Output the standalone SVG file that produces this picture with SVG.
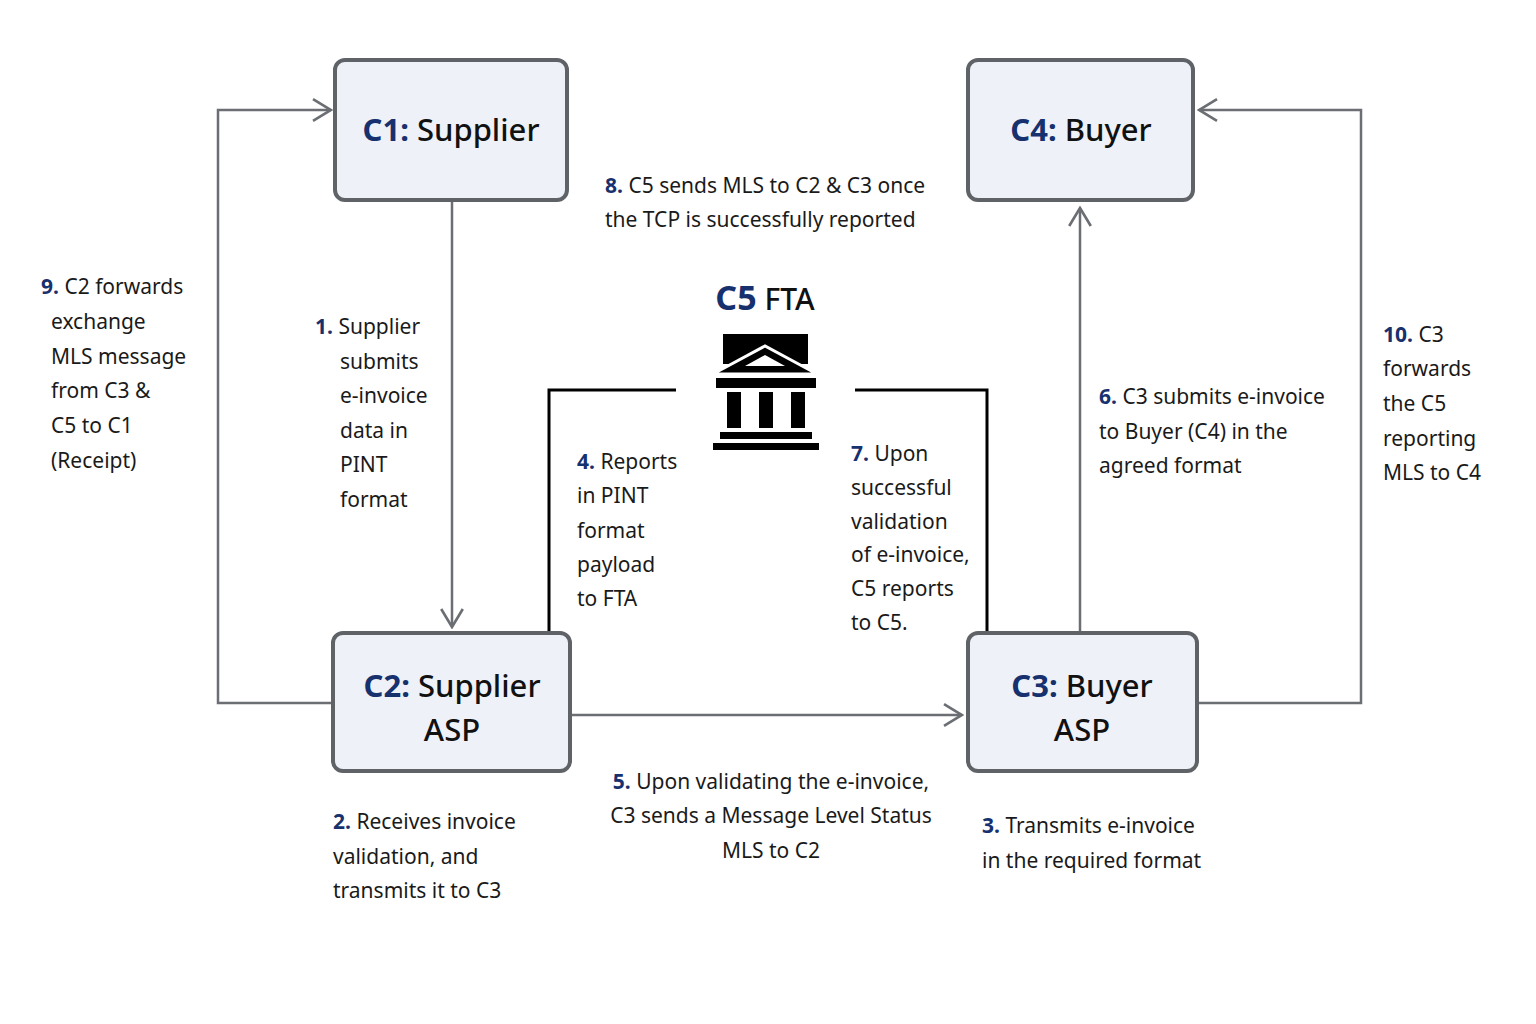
<svg xmlns="http://www.w3.org/2000/svg" width="1536" height="1024" viewBox="0 0 1536 1024">
<style>
.box{fill:#eef2f8;stroke:#5f6368;stroke-width:4}
.t{font-family:"Noto Sans","Open Sans",sans-serif;font-size:21px;fill:#1a1a1a}
.h{font-family:"Noto Sans","Open Sans",sans-serif;font-size:31px;fill:#111;text-anchor:middle;font-weight:500}
.b{fill:#17306e;font-weight:bold}
.c{fill:none;stroke:#6b6e73;stroke-width:2.5}
.k{fill:none;stroke:#000;stroke-width:3}
</style>
<defs>
<marker id="a" viewBox="0 0 20 20" refX="18" refY="10" markerWidth="24" markerHeight="28" markerUnits="userSpaceOnUse" orient="auto"><path d="M3,1 L18,10 L3,19" fill="none" stroke="#6b6e73" stroke-width="2.2"/></marker>
</defs>
<rect width="1536" height="1024" fill="#fff"/>
<g id="connectors">
<path class="c" d="M452,201 V627" marker-end="url(#a)"/>
<path class="c" d="M333,703 H218 V110 H331" marker-end="url(#a)"/>
<path class="c" d="M571,715 H962" marker-end="url(#a)"/>
<path class="c" d="M1080,632 V208" marker-end="url(#a)"/>
<path class="c" d="M1197,703 H1361 V110 H1199" marker-end="url(#a)"/>
<path class="k" d="M549,632 V390 H676"/>
<path class="k" d="M855,390 H987 V632"/>
</g>
<g id="c1"><rect class="box" x="335" y="60" width="232" height="140" rx="10"/><text class="h" x="451" y="141"><tspan class="b">C1:</tspan> Supplier</text></g>
<g id="c4"><rect class="box" x="968" y="60" width="225" height="140" rx="10"/><text class="h" x="1081" y="141"><tspan class="b">C4:</tspan> Buyer</text></g>
<g id="c2"><rect class="box" x="333" y="633" width="237" height="138" rx="10"/><text class="h" x="452" y="697"><tspan class="b">C2:</tspan> Supplier</text><text class="h" x="452" y="741">ASP</text></g>
<g id="c3"><rect class="box" x="968" y="633" width="229" height="138" rx="10"/><text class="h" x="1082" y="697"><tspan class="b">C3:</tspan> Buyer</text><text class="h" x="1082" y="741">ASP</text></g>
<g id="c5">
<text class="h" x="765" y="310" style="font-size:30px"><tspan class="b" style="font-size:34px">C5</tspan> <tspan>FTA</tspan></text>
<rect x="723" y="334" width="85" height="30" fill="#000"/>
<path d="M713,374 L765,346 L817,374 Z" fill="#000" stroke="#fff" stroke-width="3"/>
<path d="M745,366 L765,355 L785,366 Z" fill="#fff"/>
<rect x="716" y="378" width="100" height="10" fill="#000"/>
<rect x="727" y="392" width="14" height="36" fill="#000"/>
<rect x="759" y="392" width="14" height="36" fill="#000"/>
<rect x="791" y="392" width="14" height="36" fill="#000"/>
<rect x="720" y="432" width="92" height="7" fill="#000"/>
<rect x="713" y="443" width="106" height="7" fill="#000"/>
</g>
<g id="labels" class="t">
<text x="605" y="193"><tspan class="b">8.</tspan> C5 sends MLS to C2 &amp; C3 once</text>
<text x="605" y="227">the TCP is successfully reported</text>
<text x="41" y="294"><tspan class="b">9.</tspan> C2 forwards</text>
<text x="51" y="329">exchange</text><text x="51" y="364">MLS message</text><text x="51" y="398">from C3 &amp;</text><text x="51" y="433">C5 to C1</text><text x="51" y="468">(Receipt)</text>
<text x="315" y="334"><tspan class="b">1.</tspan> Supplier</text>
<text x="340" y="369">submits</text><text x="340" y="403">e-invoice</text><text x="340" y="438">data in</text><text x="340" y="472">PINT</text><text x="340" y="507">format</text>
<text x="577" y="469"><tspan class="b">4.</tspan> Reports</text>
<text x="577" y="503">in PINT</text><text x="577" y="538">format</text><text x="577" y="572">payload</text><text x="577" y="606">to FTA</text>
<text x="851" y="461"><tspan class="b">7.</tspan> Upon</text>
<text x="851" y="495">successful</text><text x="851" y="529">validation</text><text x="851" y="562">of e-invoice,</text><text x="851" y="596">C5 reports</text><text x="851" y="630">to C5.</text>
<text x="1099" y="404"><tspan class="b">6.</tspan> C3 submits e-invoice</text>
<text x="1099" y="439">to Buyer (C4) in the</text><text x="1099" y="473">agreed format</text>
<text x="1383" y="342"><tspan class="b">10.</tspan> C3</text>
<text x="1383" y="376">forwards</text><text x="1383" y="411">the C5</text><text x="1383" y="446">reporting</text><text x="1383" y="480">MLS to C4</text>
<text x="333" y="829"><tspan class="b">2.</tspan> Receives invoice</text>
<text x="333" y="864">validation, and</text><text x="333" y="898">transmits it to C3</text>
<g text-anchor="middle">
<text x="771" y="789"><tspan class="b">5.</tspan> Upon validating the e-invoice,</text>
<text x="771" y="823">C3 sends a Message Level Status</text>
<text x="771" y="858">MLS to C2</text>
</g>
<text x="982" y="833"><tspan class="b">3.</tspan> Transmits e-invoice</text>
<text x="982" y="868">in the required format</text>
</g>
</svg>
